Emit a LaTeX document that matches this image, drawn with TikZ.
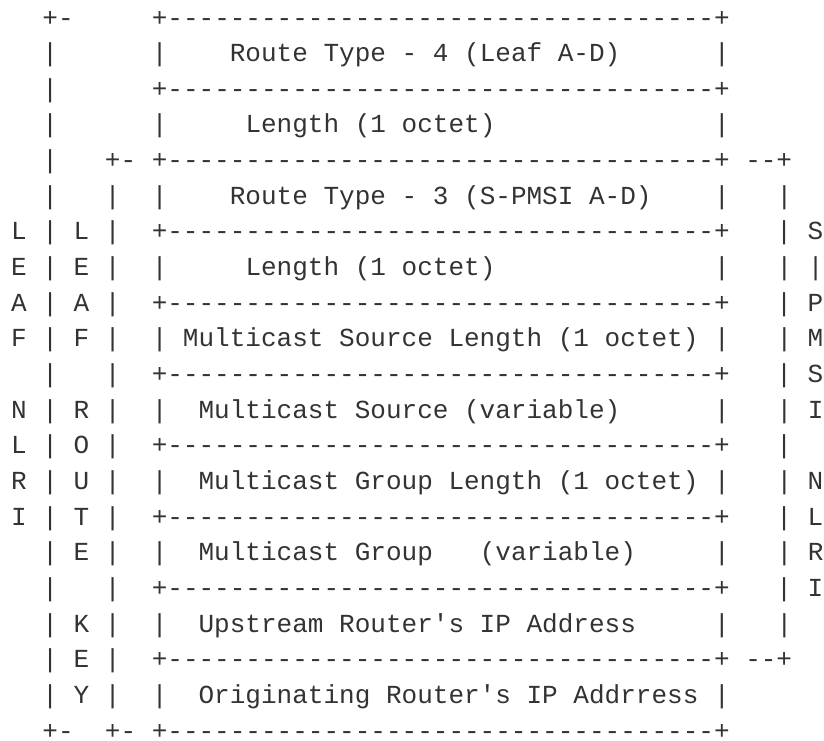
\documentclass[tikz,border=0pt]{standalone}
\usepackage{fontspec}
\setmonofont{Liberation Mono}
\usepackage{tikz}
\definecolor{ink}{HTML}{333333}
\tikzstyle{row} = [anchor=base west, inner sep=0pt, text=ink, font=\ttfamily\fontsize{26.03}{35.66}\selectfont]
\newcommand{\asciirule}{-----------------------------------}

\begin{document}
\frenchspacing
\begin{tikzpicture}[x=1pt, y=-1pt]
    \useasboundingbox (0,0) rectangle (824,740);
    \node [row] at (11,26.00) (row1) {~~+-~~~~~+\asciirule+};
    \node [row] at (11,61.66) (row2) {~~|~~~~~~|~~~~Route~Type~-~4~(Leaf~A-D)~~~~~~|};
    \node [row] at (11,97.32) (row3) {~~|~~~~~~+\asciirule+};
    \node [row] at (11,132.98) (row4) {~~|~~~~~~|~~~~~Length~(1~octet)~~~~~~~~~~~~~~|};
    \node [row] at (11,168.64) (row5) {~~|~~~+-~+\asciirule+~--+};
    \node [row] at (11,204.30) (row6) {~~|~~~|~~|~~~~Route~Type~-~3~(S-PMSI~A-D)~~~~|~~~|};
    \node [row] at (11,239.96) (row7) {L~|~L~|~~+\asciirule+~~~|~S};
    \node [row] at (11,275.62) (row8) {E~|~E~|~~|~~~~~Length~(1~octet)~~~~~~~~~~~~~~|~~~|~|};
    \node [row] at (11,311.28) (row9) {A~|~A~|~~+\asciirule+~~~|~P};
    \node [row] at (11,346.94) (row10) {F~|~F~|~~|~Multicast~Source~Length~(1~octet)~|~~~|~M};
    \node [row] at (11,382.60) (row11) {~~|~~~|~~+\asciirule+~~~|~S};
    \node [row] at (11,418.26) (row12) {N~|~R~|~~|~~Multicast~Source~(variable)~~~~~~|~~~|~I};
    \node [row] at (11,453.92) (row13) {L~|~O~|~~+\asciirule+~~~|};
    \node [row] at (11,489.58) (row14) {R~|~U~|~~|~~Multicast~Group~Length~(1~octet)~|~~~|~N};
    \node [row] at (11,525.24) (row15) {I~|~T~|~~+\asciirule+~~~|~L};
    \node [row] at (11,560.90) (row16) {~~|~E~|~~|~~Multicast~Group~~~(variable)~~~~~|~~~|~R};
    \node [row] at (11,596.56) (row17) {~~|~~~|~~+\asciirule+~~~|~I};
    \node [row] at (11,632.22) (row18) {~~|~K~|~~|~~Upstream~Router's~IP~Address~~~~~|~~~|};
    \node [row] at (11,667.88) (row19) {~~|~E~|~~+\asciirule+~--+};
    \node [row] at (11,703.54) (row20) {~~|~Y~|~~|~~Originating~Router's~IP~Addrress~|};
    \node [row] at (11,739.20) (row21) {~~+-~~+-~+\asciirule+};
\end{tikzpicture}
\end{document}
